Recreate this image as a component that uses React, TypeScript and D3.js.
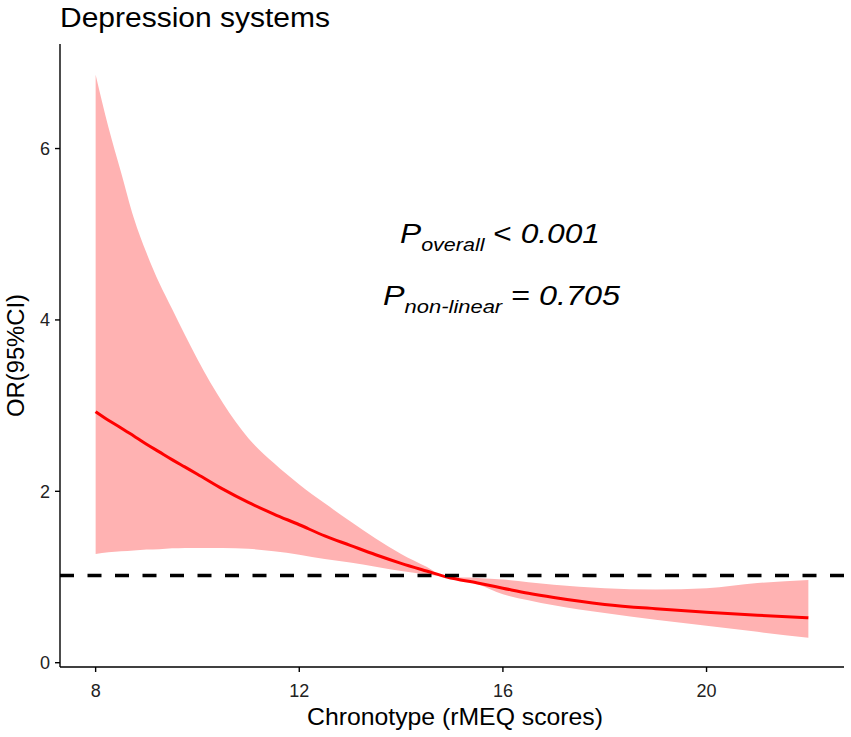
import React from "react";
import * as d3 from "d3";

const xValues = [8, 8.25, 8.5, 8.75, 9, 9.25, 9.5, 9.75, 10, 10.5, 11, 11.5, 12, 12.5, 13, 13.5, 14, 14.5, 14.9, 15.5, 16, 16.5, 17, 18, 19, 20, 21, 22];
const orValues = [2.93, 2.83, 2.74, 2.645, 2.55, 2.46, 2.37, 2.285, 2.2, 2.025, 1.87, 1.735, 1.61, 1.48, 1.37, 1.26, 1.16, 1.07, 1.0, 0.93, 0.87, 0.81, 0.76, 0.68, 0.63, 0.59, 0.555, 0.525];
const lowerValues = [1.27, 1.29, 1.3, 1.31, 1.32, 1.325, 1.335, 1.34, 1.34, 1.34, 1.33, 1.3, 1.26, 1.21, 1.17, 1.12, 1.07, 1.03, 1.0, 0.92, 0.8, 0.73, 0.67, 0.58, 0.5, 0.43, 0.36, 0.29];
const upperValues = [6.86, 6.25, 5.72, 5.19, 4.78, 4.43, 4.13, 3.83, 3.54, 3.03, 2.62, 2.33, 2.08, 1.86, 1.65, 1.45, 1.27, 1.12, 1.0, 0.99, 0.97, 0.94, 0.91, 0.87, 0.855, 0.87, 0.93, 0.965];
const xTicks = [8, 12, 16, 20];
const yTicks = [0, 2, 4, 6];
const refValue = 1;

const W = 851;
const H = 737;
const FONT = "'Liberation Sans', Arial, sans-serif";

export default function App() {
  const x = d3.scaleLinear().domain([7.3, 22.7]).range([60, 844]);
  const y = d3.scaleLinear().domain([-0.05, 7.22]).range([667, 44]);

  const data = xValues.map((v, i) => ({ x: v, or: orValues[i], lo: lowerValues[i], hi: upperValues[i] }));

  const area = d3
    .area<any>()
    .x((d) => x(d.x))
    .y0((d) => y(d.lo))
    .y1((d) => y(d.hi))
    .curve(d3.curveMonotoneX);
  const line = d3
    .line<any>()
    .x((d) => x(d.x))
    .y((d) => y(d.or))
    .curve(d3.curveMonotoneX);

  const [x0, x1] = x.range();
  const [yb, yt] = y.range();

  return (
    <svg width={W} height={H} style={{ position: "absolute", left: 0, top: 0, background: "#fff" }} fontFamily={FONT}>
      <rect x={0} y={0} width={W} height={H} fill="#fff" />
      <path d={area(data) || ""} fill="#FFB2B2" stroke="none" />
      <path d={line(data) || ""} fill="none" stroke="#FF0000" strokeWidth={3} />
      <line x1={x0} x2={x1} y1={y(refValue) - 1.5} y2={y(refValue) - 1.5} stroke="#000" strokeWidth={3.6} strokeDasharray="14 13.5" />

      {/* axes */}
      <line x1={x0} x2={x0} y1={yt} y2={yb} stroke="#000" strokeWidth={1.4} />
      <line x1={x0} x2={x1} y1={yb} y2={yb} stroke="#000" strokeWidth={1.4} />
      {xTicks.map((t) => (
        <g key={"x" + t}>
          <line x1={x(t)} x2={x(t)} y1={yb} y2={yb + 5} stroke="#000" strokeWidth={1.4} />
          <text x={x(t)} y={697} textAnchor="middle" fontSize={18} fill="#222">
            {t}
          </text>
        </g>
      ))}
      {yTicks.map((t) => (
        <g key={"y" + t}>
          <line x1={x0 - 5} x2={x0} y1={y(t)} y2={y(t)} stroke="#000" strokeWidth={1.4} />
          <text x={x0 - 10} y={y(t) + 6.5} textAnchor="end" fontSize={18} fill="#222">
            {t}
          </text>
        </g>
      ))}

      <text x={60} y={27} fontSize={27} fill="#000" textLength={270} lengthAdjust="spacingAndGlyphs">
        Depression systems
      </text>
      <text x={307} y={725} fontSize={24} fill="#000" textLength={296} lengthAdjust="spacingAndGlyphs">
        Chronotype (rMEQ scores)
      </text>
      <text
        transform={`translate(24, ${(yt + yb) / 2}) rotate(-90)`}
        textAnchor="middle"
        fontSize={23}
        fill="#000"
        textLength={123}
        lengthAdjust="spacingAndGlyphs"
      >
        OR(95%CI)
      </text>

      <text x={400} y={243} fill="#000" fontSize={28} textLength={200} lengthAdjust="spacingAndGlyphs">
        <tspan fontStyle="italic">P</tspan>
        <tspan fontStyle="italic" fontSize={19} dy={8}>overall</tspan>
        <tspan dy={-8}> &lt; </tspan>
        <tspan fontStyle="italic">0.001</tspan>
      </text>
      <text x={383} y={305} fill="#000" fontSize={28} textLength={237} lengthAdjust="spacingAndGlyphs">
        <tspan fontStyle="italic">P</tspan>
        <tspan fontStyle="italic" fontSize={19} dy={8}>non-linear</tspan>
        <tspan dy={-8}> = </tspan>
        <tspan fontStyle="italic">0.705</tspan>
      </text>
    </svg>
  );
}
